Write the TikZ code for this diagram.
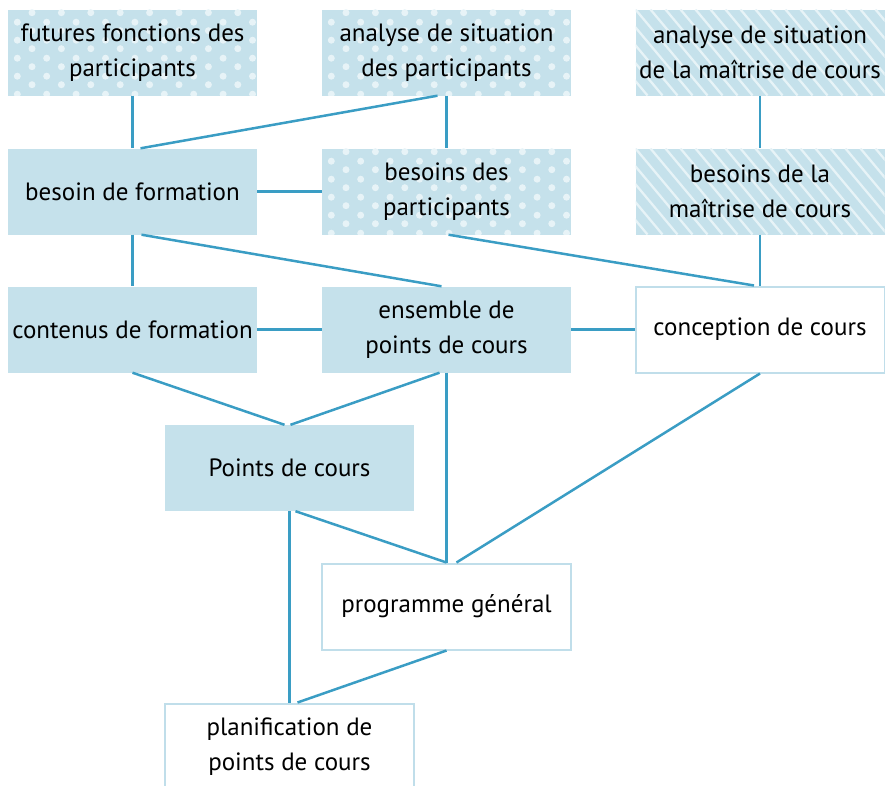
\documentclass[tikz,border=0pt]{standalone}
\usepackage{fontspec}
\setmainfont{PT Sans}
\usetikzlibrary{calc}
\definecolor{boxfill}{HTML}{C5E1EB}
\definecolor{dotc}{HTML}{E7F3F7}
\definecolor{linec}{HTML}{3A9DC4}
\definecolor{bordc}{HTML}{C0DEEA}
\definecolor{txtc}{HTML}{000000}
\tikzset{
  base/.style={minimum width=249pt, minimum height=86pt, inner sep=0pt, align=center,
    text=txtc, font=\fontsize{25}{35}\selectfont},
  solidbox/.style={base, fill=boxfill},
  whitebox/.style={base, fill=white, draw=bordc, line width=2pt},
  dotbox/.style={base, fill=boxfill, path picture={
      \foreach \i in {0,...,17}{
        \pgfmathsetmacro{\off}{mod(\i,2)*8.5}
        \foreach \j in {-1,...,5}{
          \fill[dotc] ($(path picture bounding box.north west)+(9.3pt+14.7pt*\i,-12.7pt-18pt*\j-\off pt)$) circle (3.5pt);
        }
      }
    }},
  stripebox/.style={base, fill=boxfill, path picture={
      \foreach \i in {-6,...,18}{
        \draw[dotc, line width=2.3pt]
          ($(path picture bounding box.north west)+(15pt*\i,0pt)$) --
          ++(72pt,-86pt);
      }
    }},
  conn/.style={draw=linec, line width=2.5pt}
}
\begin{document}
\begin{tikzpicture}[x=1pt,y=-1pt]
\useasboundingbox (0,0) rectangle (885,785);
% row 1
\node[dotbox] (f) at (132.5,52.5) {futures fonctions des\\participants};
\node[dotbox] (ap) at (446.5,52.5) {analyse de situation\\des participants};
\node[stripebox] (am) at (760,52.5) {analyse de situation\\de la maîtrise de cours};
% row 2
\node[solidbox] (bf) at (132.5,191.5) {besoin de formation};
\node[dotbox] (bp) at (446.5,191.5) {besoins des\\participants};
\node[stripebox] (bm) at (760,191.5) {besoins de la\\maîtrise de cours};
% row 3
\node[solidbox] (cf) at (132.5,329.5) {contenus de formation};
\node[solidbox] (ep) at (446.5,329.5) {ensemble de\\points de cours};
\node[whitebox] (cc) at (760,329.5) {conception de cours};
% lower
\node[solidbox] (pc) at (289.5,468) {Points de cours};
\node[whitebox] (pg) at (446.5,606.5) {programme général};
\node[whitebox] (pl) at (289.5,746.5) {planification de\\points de cours};
% connectors
\draw[conn] (f.south) -- (bf.north);
\draw[conn] ([xshift=-9pt]ap.south) -- ([xshift=8pt]bf.north);
\draw[conn] (ap.south) -- (bp.north);
\draw[conn] (am.south) -- (bm.north);
\draw[conn] (bf.east) -- (bp.west);
\draw[conn] (bf.south) -- (cf.north);
\draw[conn] ([xshift=9pt]bf.south) -- ([xshift=-5pt]ep.north);
\draw[conn] ([xshift=2pt]bp.south) -- ([xshift=-6pt]cc.north);
\draw[conn] (bm.south) -- (cc.north);
\draw[conn] (cf.east) -- (ep.west);
\draw[conn] (ep.east) -- (cc.west);
\draw[conn] (cf.south) -- ([xshift=-5pt]pc.north);
\draw[conn] ([xshift=-7pt]ep.south) -- ([xshift=1pt]pc.north);
\draw[conn] (ep.south) -- (pg.north);
\draw[conn] (cc.south) -- ([xshift=10pt]pg.north);
\draw[conn] (pc.south) -- (pl.north);
\draw[conn] ([xshift=6pt]pc.south) -- (pg.north);
\draw[conn] (pg.south) -- ([xshift=8pt]pl.north);
\end{tikzpicture}
\end{document}
